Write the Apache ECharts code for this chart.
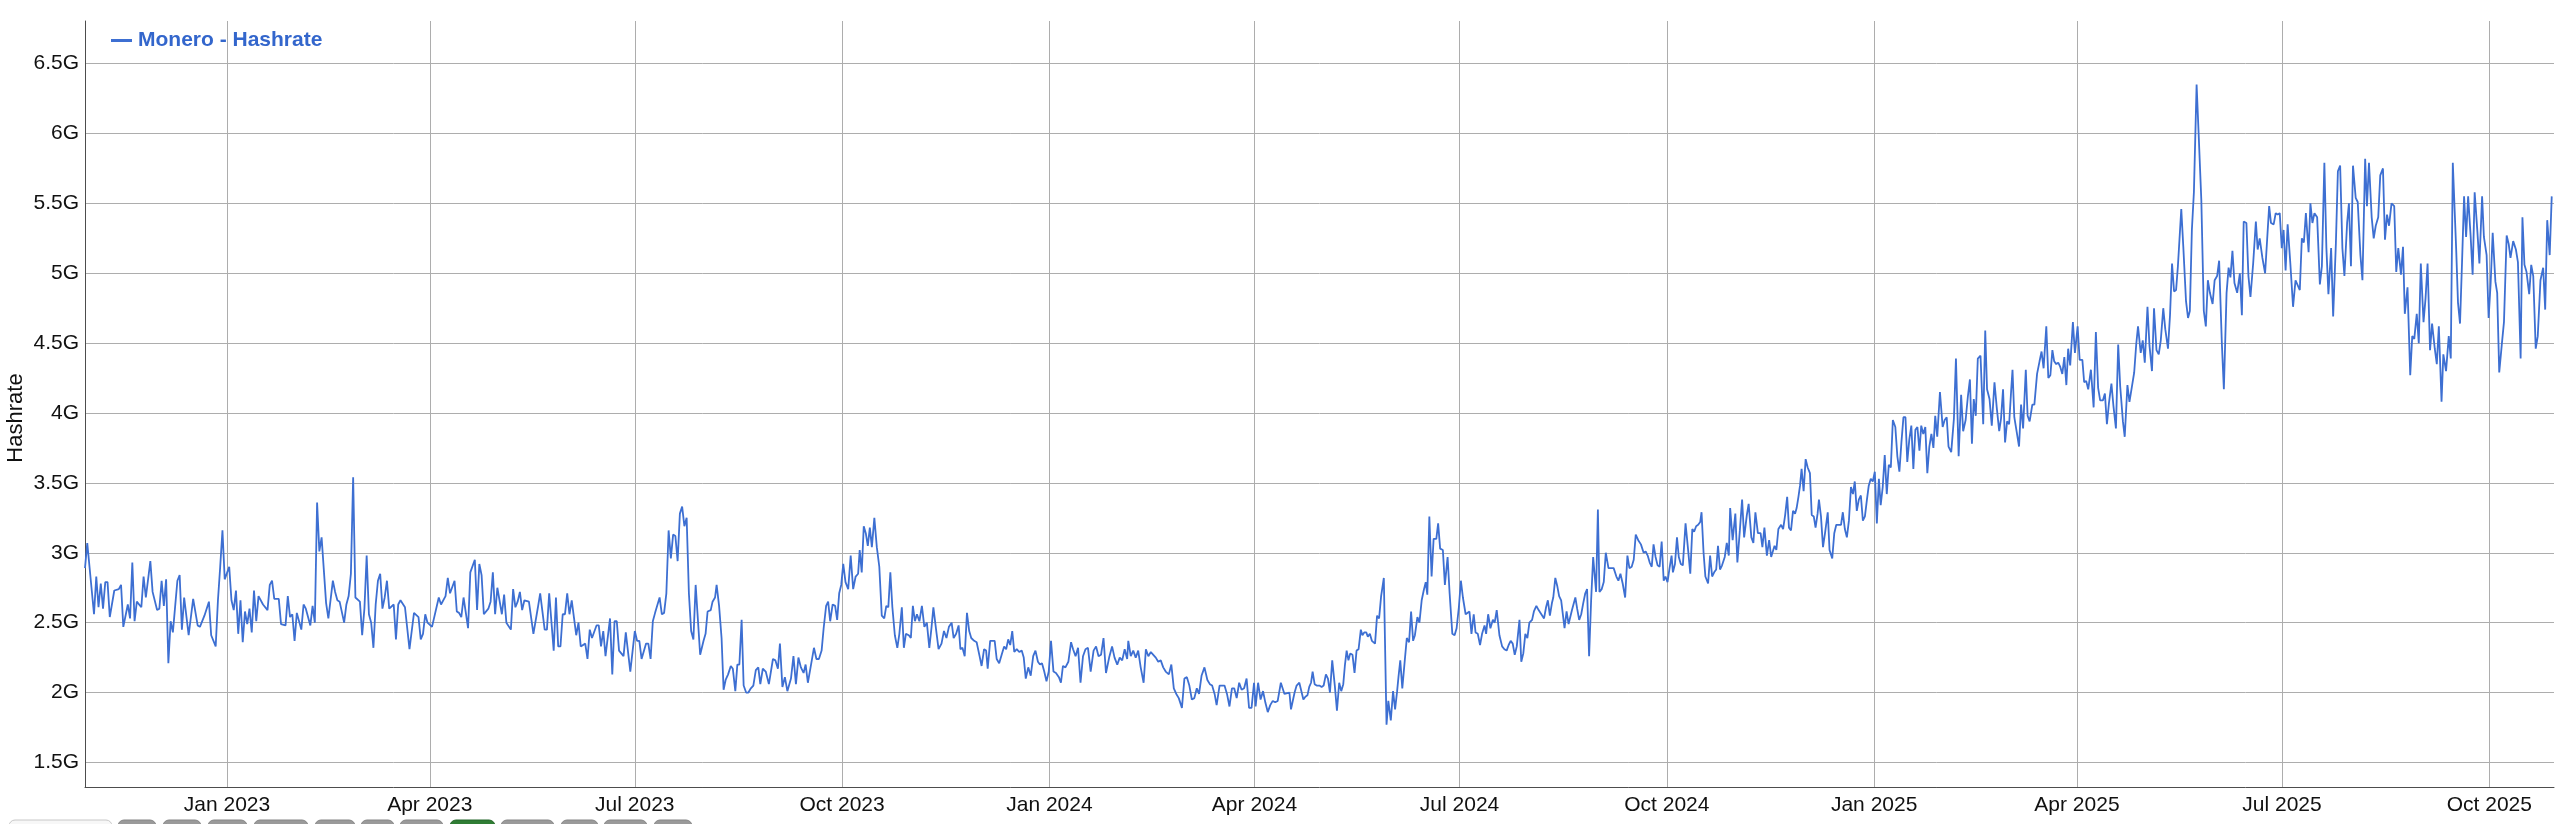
<!DOCTYPE html>
<html>
<head>
<meta charset="utf-8">
<script src="https://cdn.jsdelivr.net/npm/echarts@6/dist/echarts.min.js"></script>
<style>
html,body{margin:0;padding:0;background:#fff;}
#chart{width:2559px;height:824px;}
</style>
</head>
<body>
<div id="chart"></div>
<script>
// ---------- DATA ----------
const seriesName = 'Monero - Hashrate';
const yAxisTitle = 'Hashrate';
const startDate = '2022-10-30';            // first day shown on the x axis
const endDate = '2025-10-29T17:00:00Z';    // last instant shown on the x axis
const tickDates = ['2023-01-01','2023-04-01','2023-07-01','2023-10-01','2024-01-01','2024-04-01','2024-07-01','2024-10-01','2025-01-01','2025-04-01','2025-07-01','2025-10-01'];
const tickLabels = ['Jan 2023','Apr 2023','Jul 2023','Oct 2023','Jan 2024','Apr 2024','Jul 2024','Oct 2024','Jan 2025','Apr 2025','Jul 2025','Oct 2025'];
const yTicks = [1.5,2,2.5,3,3.5,4,4.5,5,5.5,6,6.5];   // in G (1e9 H/s)
const yMin = 1.324, yMax = 6.805;

// days since startDate
const dayOffsets = [
0,1,4,5,6,7,8,9,10,11,
13,15,16,17,19,20,21,22,23,25,
26,27,29,30,32,33,34,35,36,37,
38,39,41,42,43,44,46,48,50,51,
53,55,56,58,59,60,61,62,64,65,
66,67,68,69,70,71,72,73,74,75,
76,77,79,81,82,83,84,86,87,89,
90,91,92,93,94,96,97,98,100,101,
102,103,104,105,107,108,110,111,112,113,
115,116,117,118,119,120,122,123,124,125,
126,127,128,129,130,131,132,133,134,135,
137,138,139,140,142,144,146,148,149,150,
151,152,154,157,158,160,161,162,164,165,
166,167,168,170,171,173,174,175,176,177,
179,180,181,182,183,185,186,187,189,190,
191,192,193,194,195,197,199,201,202,204,
205,206,208,209,210,211,212,213,214,215,
216,218,219,220,222,223,224,225,227,228,
229,230,231,233,234,235,236,237,239,240,
242,244,245,246,247,249,250,251,252,253,
255,256,257,258,259,260,261,262,263,264,
265,266,267,268,269,270,271,273,
274.5,275.4,276.3,277.7,278.5,279.6,280.3,281.4,282.5,283.4,
284.3,285.4,286.6,287.5,288.6,289.5,290.4,291.4,292.3,293.4,
294.4,295.5,296.6,297.7,298.8,299.7,300.8,302.1,303.5,305.3,
306.4,307.5,308.4,309.5,310.6,311.7,313.3,314.4,315.5,316.6,
317.7,318.9,319.8,320.8,322.0,323.5,324.6,325.7,326.9,327.8,
328.9,329.8,330.7,331.8,332.9,333.8,334.7,335.6,336.5,337.5,
338.7,339.8,340.9,342.0,343.1,343.8,344.7,345.6,346.5,347.4,
348.3,349.2,350.3,351.4,352.5,353.6,354.7,355.6,356.5,357.4,
358.3,359.4,360.5,361.4,362.5,363.4,364.3,365.6,366.5,367.4,
368.3,369.2,370.3,371.4,372.5,373.6,374.7,375.7,376.5,377.7,
378.8,380.1,381.2,382.3,383.4,384.6,385.5,386.6,387.7,388.5,
389.4,390.4,391.4,392.4,393.3,394.6,395.7,397.0,397.9,399.0,
399.9,400.6,401.7,402.6,403.7,404.6,405.7,406.8,407.9,408.8,
409.7,410.6,411.5,412.4,413.5,414.6,415.7,416.6,417.5,418.6,
419.7,420.8,421.8,422.9,423.8,424.7,425.7,426.7,427.7,428.7,
429.8,430.9,432.2,433.1,434.0,435.1,436.4,437.6,438.5,439.6,
440.7,441.8,442.9,444.0,445.1,446.3,447.6,448.7,449.8,450.9,
452.0,453.1,454.5,455.8,456.9,458.1,459.2,460.3,461.4,462.5,
463.0,464.1,465.2,466.3,467.4,468.5,469.8,470.8,471.9,473.0,
474.1,475.2,476.3,477.4,478.5,479.6,481.0,482.1,483.2,484.3,
485.4,486.8,487.9,489.0,490.1,491.2,492.3,493.4,494.4,495.5,
496.8,498.1,499.2,500.2,501.3,502.2,503.5,504.6,505.7,506.8,
507.9,509.0,510.0,511.1,512.2,513.3,514.4,515.5,516.6,517.7,
518.8,519.5,520.6,521.7,522.8,523.8,524.9,526.0,527.1,528.2,
529.3,
530.7,532.3,534.5,535.2,536.0,536.8,537.7,538.9,540.7,541.6,
542.5,543.3,544.1,544.8,545.7,546.6,547.8,548.8,549.7,550.7,
551.6,552.5,553.5,554.7,555.6,556.6,557.5,558.4,559.1,559.9,
560.7,561.5,562.5,563.4,564.3,565.2,566.2,566.9,567.7,568.6,
569.3,570.2,571.1,571.9,572.5,573.4,574.3,575.2,576.4,577.6,
578.4,579.5,580.5,581.4,582.3,582.9,583.7,584.6,585.7,586.6,
587.6,588.5,589.4,590.2,591.3,592.2,593.2,594.1,595.0,595.7,
596.6,597.6,598.5,599.7,600.5,601.4,602.6,603.5,604.7,605.6,
606.8,607.8,608.7,609.7,610.6,611.5,612.7,613.5,614.4,615.3,
616.3,617.1,618.1,619.1,620.0,621.1,621.8,622.7,623.7,624.8,
625.6,626.5,627.7,628.9,629.9,630.9,631.8,632.7,633.6,634.5,
635.4,636.6,637.4,638.3,639.2,640.1,641.0,642.2,643.0,644.1,
645.1,646.3,647.5,648.4,649.2,650.1,651.0,651.6,652.5,653.4,
654.2,655.1,656.0,656.6,657.5,658.4,659.9,661.4,662.2,663.1,
664.0,664.9,665.8,666.6,667.5,668.4,669.3,669.9,670.6,671.4,
672.1,673.1,674.0,674.9,676.1,677.3,678.4,679.6,680.5,681.4,
682.4,683.5,684.5,685.4,686.4,687.3,688.2,689.3,690.5,691.7,
692.6,693.5,694.4,695.3,696.1,697.0,697.9,698.8,699.7,700.6,
701.4,702.3,703.2,704.1,704.7,705.6,706.5,707.3,708.2,709.1,
710.3,711.5,712.4,713.3,714.1,715.0,715.9,716.8,717.4,718.3,
719.1,720.3,721.2,722.1,723.0,723.9,724.7,725.6,726.5,727.7,
728.6,729.5,730.1,731.2,732.4,733.3,734.4,735.4,736.3,737.5,
738.3,739.5,740.4,741.3,742.4,
743.6,744.4,745.3,746.4,747.4,748.3,749.8,750.6,751.5,752.7,
753.6,754.5,755.4,756.2,757.1,758.0,758.9,759.6,760.4,761.1,
761.8,762.7,763.6,764.5,765.5,766.3,767.2,768.0,768.9,769.5,
770.4,771.3,772.2,773.4,774.2,775.4,776.3,777.2,778.1,779.3,
780.1,781.0,781.9,782.8,783.7,784.6,785.4,786.3,787.2,788.1,
789.0,789.9,790.8,791.6,792.5,793.4,794.3,795.2,796.1,796.9,
797.8,798.7,799.6,800.5,801.4,802.3,803.4,804.3,805.2,806.1,
807.0,807.9,808.7,809.6,810.5,811.4,812.3,813.2,814.1,814.9,
815.8,816.7,817.6,818.5,819.4,820.3,821.1,822.0,823.2,824.4,
825.3,826.2,827.0,828.2,829.4,830.3,831.5,832.6,833.5,834.6,
835.6,836.5,837.4,838.2,839.1,840.0,841.2,842.4,843.3,844.1,
845.2,846.2,847.4,848.4,849.5,850.3,851.2,852.1,853.0,853.9,
854.8,855.4,856.2,857.4,858.3,859.2,860.1,861.3,862.1,863.0,
864.2,865.1,866.3,867.4,868.3,869.2,870.4,871.3,872.2,873.1,
873.9,874.8,875.7,876.6,877.5,878.4,879.3,880.1,881.0,882.2,
883.1,
884.3,885.2,886.4,887.2,888.1,889.0,890.2,891.4,892.4,893.4,
894.3,895.5,896.4,897.3,898.2,899.3,900.2,901.3,902.3,903.2,
904.4,905.2,906.4,907.3,908.5,909.4,910.3,911.1,912.3,913.2,
914.1,915.3,916.2,917.3,918.2,919.3,920.3,921.2,922.3,923.2,
924.4,925.3,926.2,927.1,928.0,928.8,930.3,931.2,932.4,933.3,
934.1,935.0,935.9,937.1,938.0,939.2,940.3,941.2,942.1,943.0,
944.2,945.1,946.2,947.1,948.3,949.2,950.4,951.3,952.1,953.0,
953.9,955.1,956.3,957.2,958.0,959.2,960.1,961.0,962.2,963.4,
964.2,965.1,966.3,967.5,968.4,969.3,970.1,971.3,972.2,973.1,
974.0,974.9,975.7,976.6,977.5,978.7,979.9,981.0,
982.9,983.8,984.7,985.6,986.8,987.6,988.5,989.4,990.6,991.8,
992.7,993.8,994.7,995.6,996.8,997.7,998.9,999.8,1000.8,1001.8,
1002.7,1003.9,1004.7,1005.6,1006.5,1007.7,1008.6,1009.8,1010.7,1011.9,
1012.7,1013.6,1014.8,1015.7,1016.6,1017.7,1018.6,1019.8,1020.7,1021.6,
1022.5,1023.6,1024.8,1025.7,1026.6,1027.8,1028.7,1029.5,1030.7,1031.9,
1032.8,1033.7,1034.8,1035.7,1036.6,1037.8,1038.7,1039.6,1040.7,1041.6,
1042.8,1043.7,1044.6,1045.8,1046.6,1047.8,1049.0,1049.9,1050.8,1052.3,
1053.1,1054.0,1054.9,1055.8,1056.7,1057.6,1058.7,1059.6,1060.5,1061.7,
1062.6,1063.8,1064.6,1065.8,1066.7,1067.6,1068.5,1069.7,1070.5,1071.4,
1072.6,1073.5,1074.7,1075.6,1076.4,1077.6,1078.8,1079.7,1080.9,1081.7,
1082.6,1083.5,1084.7,1085.6,1086.5,1087.6,1088.5,1089.7,1090.9,1091.8,
1092.7,1093.8,1094.7
];

// hashrate in G, aligned with dayOffsets
const hashrateG = [
2.89,3.07,2.56,2.83,2.61,2.78,2.60,2.79,2.79,2.54,
2.73,2.74,2.77,2.47,2.63,2.53,2.93,2.51,2.65,2.61,
2.83,2.68,2.94,2.72,2.59,2.60,2.80,2.62,2.81,2.21,
2.51,2.43,2.80,2.84,2.45,2.68,2.41,2.67,2.48,2.47,
2.55,2.65,2.41,2.33,2.66,2.90,3.16,2.81,2.90,2.66,
2.59,2.73,2.42,2.66,2.36,2.58,2.49,2.60,2.43,2.73,
2.51,2.69,2.63,2.59,2.77,2.80,2.67,2.67,2.49,2.48,
2.69,2.54,2.56,2.37,2.57,2.45,2.63,2.60,2.48,2.62,
2.50,3.36,3.01,3.11,2.64,2.53,2.80,2.72,2.66,2.65,
2.50,2.63,2.69,2.85,3.54,2.68,2.65,2.41,2.60,2.98,
2.56,2.50,2.32,2.63,2.80,2.85,2.60,2.68,2.80,2.60,
2.63,2.38,2.63,2.66,2.61,2.31,2.57,2.54,2.38,2.42,
2.56,2.50,2.47,2.68,2.63,2.69,2.82,2.71,2.80,2.58,
2.57,2.54,2.68,2.46,2.86,2.95,2.59,2.92,2.84,2.56,
2.60,2.65,2.86,2.56,2.75,2.56,2.70,2.50,2.45,2.74,
2.61,2.65,2.72,2.59,2.66,2.65,2.42,2.61,2.71,2.45,
2.45,2.71,2.30,2.68,2.33,2.33,2.56,2.56,2.71,2.56,
2.66,2.41,2.50,2.33,2.35,2.24,2.45,2.39,2.48,2.48,
2.33,2.44,2.26,2.53,2.13,2.51,2.51,2.30,2.26,2.43,
2.15,2.44,2.37,2.37,2.24,2.35,2.35,2.24,2.51,2.57,
2.68,2.56,2.57,2.71,3.16,2.96,3.13,3.12,2.94,3.28,
3.33,3.19,3.25,2.71,2.44,2.38,2.77,2.27,
2.37,2.42,2.58,2.59,2.65,2.68,2.77,2.62,2.39,2.02,
2.09,2.13,2.19,2.17,2.01,2.20,2.20,2.52,2.05,2.00,
2.00,2.03,2.05,2.16,2.18,2.06,2.17,2.15,2.06,2.24,
2.23,2.17,2.35,2.04,2.11,2.01,2.10,2.26,2.06,2.25,
2.18,2.14,2.20,2.07,2.18,2.32,2.24,2.24,2.30,2.46,
2.62,2.65,2.51,2.63,2.62,2.52,2.71,2.77,2.92,2.79,
2.74,2.98,2.74,2.83,2.85,3.02,2.86,3.19,3.14,3.05,
3.18,3.04,3.25,3.04,2.90,2.55,2.53,2.62,2.61,2.86,
2.61,2.41,2.32,2.42,2.61,2.32,2.42,2.41,2.39,2.62,
2.51,2.56,2.51,2.62,2.47,2.50,2.32,2.47,2.61,2.45,
2.31,2.35,2.44,2.39,2.47,2.50,2.39,2.42,2.48,2.31,
2.32,2.26,2.57,2.44,2.39,2.37,2.36,2.26,2.19,2.31,
2.30,2.17,2.37,2.37,2.37,2.24,2.21,2.27,2.33,2.31,
2.38,2.34,2.44,2.29,2.31,2.29,2.30,2.25,2.10,2.18,
2.12,2.26,2.30,2.22,2.20,2.21,2.15,2.08,2.15,2.37,
2.15,2.14,2.11,2.07,2.19,2.18,2.22,2.36,2.31,2.26,
2.32,2.07,2.26,2.31,2.32,2.15,2.30,2.33,2.26,2.27,
2.39,2.14,2.25,2.33,2.25,2.20,2.25,2.23,2.31,2.24,
2.37,2.26,2.30,2.25,2.30,2.18,2.07,2.31,2.26,2.29,
2.27,2.25,2.22,2.23,2.18,2.15,2.13,2.20,2.03,1.99,
1.96,1.89,2.10,2.11,2.05,1.95,1.96,2.03,1.99,2.12,
2.18,2.09,2.06,2.05,1.99,1.91,2.05,2.05,2.05,1.99,
1.90,2.03,2.03,1.96,2.07,2.02,2.03,2.10,1.89,1.89,
2.07,1.90,2.07,1.95,2.01,1.93,1.86,1.91,1.94,1.93,
1.94,
2.07,1.99,2.00,1.88,1.88,2.00,2.05,2.07,1.95,1.97,
1.98,2.04,2.07,2.15,2.06,2.05,2.05,2.04,2.05,2.13,
2.10,2.00,2.23,2.04,1.87,2.07,2.01,2.06,2.19,2.30,
2.23,2.28,2.27,2.14,2.30,2.31,2.45,2.41,2.43,2.43,
2.40,2.42,2.37,2.36,2.35,2.55,2.53,2.69,2.82,1.77,
1.94,1.80,2.01,1.88,2.01,2.11,2.23,2.03,2.23,2.39,
2.36,2.58,2.37,2.41,2.54,2.50,2.66,2.73,2.79,2.70,
3.26,2.83,3.10,3.10,3.21,3.03,3.02,2.77,2.97,2.71,
2.42,2.41,2.46,2.61,2.80,2.68,2.56,2.55,2.58,2.42,
2.56,2.43,2.42,2.34,2.42,2.48,2.42,2.56,2.46,2.52,
2.50,2.59,2.41,2.33,2.31,2.30,2.34,2.37,2.35,2.27,
2.33,2.52,2.22,2.28,2.42,2.39,2.50,2.52,2.58,2.62,
2.59,2.56,2.53,2.61,2.66,2.55,2.64,2.68,2.82,2.76,
2.69,2.66,2.54,2.46,2.58,2.49,2.59,2.68,2.60,2.52,
2.56,2.64,2.71,2.74,2.26,2.66,2.97,2.98,2.72,3.31,
2.72,2.74,2.79,3.00,2.89,2.89,2.89,2.83,2.80,2.85,
2.78,2.68,2.98,2.89,2.90,2.95,3.13,3.09,3.06,3.00,
3.01,2.98,2.93,2.90,3.06,2.97,2.91,2.90,3.08,2.80,
2.83,2.79,2.89,2.98,2.86,2.92,3.11,2.97,2.92,2.91,
3.21,3.01,2.85,3.17,3.15,3.19,3.20,3.22,3.29,3.00,
2.83,2.78,2.98,2.83,2.86,2.88,3.05,2.88,2.91,2.97,
3.07,2.98,3.32,3.09,3.28,2.93,3.16,3.38,3.11,3.27,
3.35,3.11,3.07,3.29,3.14,
3.14,3.04,3.18,2.98,3.09,2.97,3.05,3.02,3.17,3.20,
3.17,3.27,3.40,3.18,3.16,3.30,3.28,3.32,3.40,3.48,
3.60,3.44,3.67,3.61,3.57,3.27,3.26,3.18,3.28,3.38,
3.26,3.04,3.14,3.29,3.02,2.96,3.14,3.20,3.20,3.20,
3.29,3.17,3.11,3.23,3.47,3.42,3.51,3.30,3.38,3.41,
3.23,3.26,3.38,3.48,3.53,3.51,3.58,3.21,3.53,3.34,
3.47,3.70,3.42,3.63,3.61,3.95,3.90,3.69,3.58,3.79,
3.97,3.97,3.65,3.81,3.91,3.60,3.88,3.90,3.73,3.91,
3.85,3.90,3.57,3.76,3.85,3.75,3.98,3.83,4.15,3.90,
3.95,3.97,3.76,3.72,3.96,4.39,3.69,4.13,3.87,3.95,
4.12,4.24,3.78,4.10,3.98,4.39,4.41,3.92,4.59,4.17,
4.10,3.91,4.22,4.04,3.87,3.96,4.17,3.79,3.94,3.92,
4.16,4.31,3.97,3.85,3.76,4.06,3.89,4.31,3.98,3.94,
4.06,4.06,4.28,4.37,4.44,4.32,4.62,4.25,4.27,4.45,
4.37,4.35,4.36,4.33,4.28,4.40,4.20,4.46,4.34,4.65,
4.43,
4.62,4.38,4.38,4.22,4.23,4.17,4.31,4.04,4.58,4.18,
4.09,4.09,4.14,3.92,4.07,4.21,4.05,3.89,4.49,4.19,
3.94,3.83,4.20,4.08,4.20,4.29,4.49,4.62,4.43,4.52,
4.36,4.76,4.48,4.30,4.75,4.45,4.42,4.52,4.75,4.60,
4.46,4.70,5.07,4.87,4.88,5.05,5.46,5.19,4.80,4.68,
4.73,5.31,5.58,6.35,6.00,5.52,4.73,4.62,4.95,4.86,
4.78,4.95,4.98,5.09,4.50,4.17,4.86,5.04,4.97,5.16,
4.93,4.86,5.00,4.70,5.37,5.36,4.98,4.83,5.07,5.37,
5.17,5.25,5.11,5.00,5.24,5.48,5.36,5.35,5.43,5.42,
5.43,5.18,5.31,5.02,5.35,5.07,4.76,4.95,
4.88,5.25,5.22,5.43,5.15,5.50,5.36,5.43,5.40,4.92,
5.05,5.79,5.18,4.85,5.18,4.69,5.21,5.73,5.77,5.18,
4.98,5.36,5.50,5.05,5.77,5.54,5.51,5.13,4.95,5.82,
5.48,5.79,5.40,5.25,5.34,5.40,5.70,5.75,5.24,5.42,
5.34,5.50,5.48,5.01,5.18,4.99,5.19,4.71,4.90,4.27,
4.55,4.53,4.71,4.50,5.07,4.65,4.82,5.07,4.45,4.64,
4.46,4.35,4.62,4.08,4.42,4.30,4.55,4.39,5.79,5.17,
4.79,4.64,5.08,5.55,5.26,5.55,5.27,4.99,5.58,5.30,
5.07,5.55,5.26,5.13,4.68,4.93,5.29,4.94,4.86,4.29,
4.50,4.65,5.27,5.21,5.11,5.23,5.17,5.08,4.39,5.40,
5.06,5.01,4.85,5.06,4.98,4.46,4.55,4.95,5.04,4.74,
5.38,5.13,5.55
];

// ---------- CHART ----------
if (dayOffsets.length !== hashrateG.length) {
  console.error('length mismatch', dayOffsets.length, hashrateG.length);
}
const DAY = 86400000;
const t0 = Date.parse(startDate);
const tEnd = Date.parse(endDate);
const seriesData = dayOffsets.map((d, i) => [t0 + d * DAY, hashrateG[i]]);
const tickTimes = tickDates.map(s => Date.parse(s));

const FONT = 'Arial, "Liberation Sans", Helvetica, sans-serif';
const GRID_COLOR = '#adadad';
const AXIS_COLOR = '#4d4d4d';
const LINE_COLOR = '#3d6fd2';

function tickLabelFor(v) {
  let best = 0, bd = Infinity;
  tickTimes.forEach((t, i) => { const dd = Math.abs(t - v); if (dd < bd) { bd = dd; best = i; } });
  return tickLabels[best];
}

const chart = echarts.init(document.getElementById('chart'), null, { renderer: 'canvas' });

const buttonDefs = [
  [9, 103, 'w'], [118, 38, 'g'], [163, 38, 'g'], [208, 39, 'g'], [254, 54, 'g'],
  [315, 40, 'g'], [361, 33, 'g'], [400, 43, 'g'], [450, 45, 'G'], [501, 53, 'g'],
  [561, 37, 'g'], [604, 43, 'g'], [654, 38, 'g']
];
const buttonGraphics = buttonDefs.map(([x, w, k]) => ({
  type: 'rect',
  shape: { x: x, y: 820, width: w, height: 16, r: 6 },
  style: {
    fill: k === 'w' ? '#f7f7f7' : (k === 'G' ? '#2f7d34' : '#9a9a9a'),
    stroke: k === 'w' ? '#c8c8c8' : (k === 'G' ? '#25662a' : '#858585'),
    lineWidth: 1
  },
  silent: true
}));

chart.setOption({
  animation: false,
  backgroundColor: '#ffffff',
  textStyle: { fontFamily: FONT },
  grid: { left: 85, right: 5, top: 21, bottom: 37, containLabel: false },
  legend: {
    data: [seriesName],
    left: 111,
    top: 30,
    padding: 0,
    icon: 'rect',
    itemWidth: 21,
    itemHeight: 3,
    itemGap: 10,
    textStyle: { fontSize: 21, fontWeight: 'bold', color: '#3366cc', fontFamily: FONT, padding: [0, 0, 0, 1] }
  },
  xAxis: {
    type: 'value',
    min: t0,
    max: tEnd,
    axisLine: { show: true, lineStyle: { color: AXIS_COLOR, width: 1 } },
    axisTick: { show: false, customValues: tickTimes },
    axisLabel: {
      customValues: tickTimes,
      formatter: (v) => tickLabelFor(v),
      fontSize: 21,
      color: '#111111',
      margin: 8,
      fontFamily: FONT,
      showMinLabel: true,
      showMaxLabel: true
    },
    splitLine: { show: true, lineStyle: { color: GRID_COLOR, width: 1 } }
  },
  yAxis: {
    type: 'value',
    min: yMin,
    max: yMax,
    axisLine: { show: true, lineStyle: { color: AXIS_COLOR, width: 1 } },
    axisTick: { show: false, customValues: yTicks },
    axisLabel: {
      customValues: yTicks,
      formatter: (v) => (Math.round(v * 10) / 10) + 'G',
      fontSize: 21,
      color: '#111111',
      margin: 6,
      fontFamily: FONT
    },
    splitLine: { show: true, lineStyle: { color: GRID_COLOR, width: 1 } }
  },
  series: [{
    name: seriesName,
    type: 'line',
    data: seriesData,
    showSymbol: false,
    symbol: 'none',
    color: LINE_COLOR,
    lineStyle: { color: LINE_COLOR, width: 1.8 },
    emphasis: { disabled: true }
  }],
  graphic: [
    {
      type: 'text',
      x: 16,
      y: 418,
      rotation: Math.PI / 2,
      style: {
        text: yAxisTitle,
        fontSize: 22,
        fontFamily: FONT,
        fill: '#111111',
        align: 'center',
        verticalAlign: 'middle'
      },
      silent: true
    }
  ].concat(buttonGraphics)
});
</script>
</body>
</html>
